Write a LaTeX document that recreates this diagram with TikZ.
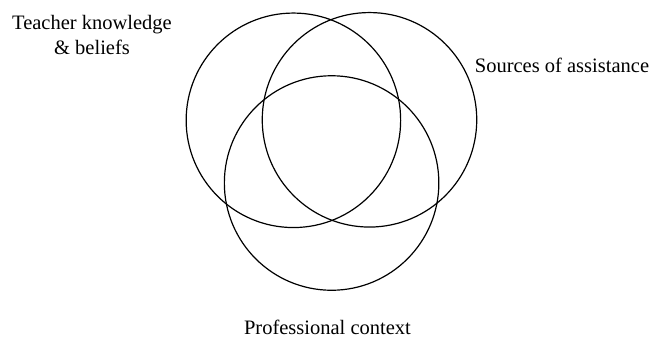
\documentclass[tikz,border=0pt]{standalone}
\usepackage{fontspec}
\setmainfont{Liberation Serif}
\newfontfamily\diagfont{Liberation Serif}
\begin{document}
\begin{tikzpicture}[x=1pt,y=-1pt,
  ring/.style={circle,draw=black,line width=1.2pt,minimum size=214.5pt,inner sep=0pt},
  lbl/.style={font=\diagfont\fontsize{20.5}{24.8}\selectfont,inner sep=0pt,anchor=base,align=center}]
\useasboundingbox (0,0) rectangle (651,338);
\node[ring] (teach) at (293.4,120.3) {};
\node[ring] (src) at (369.5,119.8) {};
\node[ring] (prof) at (331.6,183) {};
\node[lbl] (tlab) at (92,54.3) {Teacher knowledge\\\& beliefs};
\node[lbl] (slab) at (562,72) {Sources of assistance};
\node[lbl] (plab) at (327.5,334.5) {Professional context};
\end{tikzpicture}
\end{document}
